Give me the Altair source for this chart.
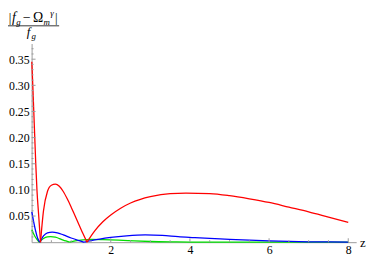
import altair as alt
import pandas as pd

# ---- data ----
red_segs = [
    ([0.005, 0.03, 0.055, 0.08, 0.105, 0.135, 0.18, 0.225],
     [0.345, 0.30, 0.25, 0.20, 0.15, 0.10, 0.05, 0.0]),
    ([0.225, 0.3, 0.4, 0.5, 0.6, 0.7, 0.8, 0.9, 1.0, 1.1, 1.2, 1.3, 1.4],
     [0.0, 0.06, 0.097, 0.109, 0.111, 0.107, 0.097, 0.083, 0.067, 0.050, 0.033, 0.016, 0.0]),
    ([1.4, 1.6, 1.8, 2.0, 2.25, 2.5, 2.75, 3.0, 3.5, 3.9, 4.5, 5.0, 5.5, 6.0, 6.5, 7.0, 7.5, 8.0],
     [0.0, 0.022, 0.039, 0.052, 0.065, 0.075, 0.082, 0.087, 0.093, 0.094, 0.093, 0.089,
      0.083, 0.076, 0.067, 0.058, 0.048, 0.038]),
]
blue_segs = [
    ([0.005, 0.05, 0.1, 0.15, 0.21],
     [0.058, 0.040, 0.022, 0.008, 0.0]),
    ([0.21, 0.3, 0.4, 0.52, 0.65, 0.8, 1.0, 1.2, 1.33],
     [0.0, 0.012, 0.018, 0.0192, 0.018, 0.014, 0.008, 0.003, 0.0]),
    ([1.33, 1.5, 1.72, 2.0, 2.4, 2.87, 3.3, 3.7, 4.1, 4.5, 5.0, 5.5, 6.0, 6.5, 7.0, 7.5, 8.0],
     [0.0, 0.003, 0.006, 0.009, 0.012, 0.0138, 0.013, 0.0105, 0.0088, 0.0072, 0.0055,
      0.0038, 0.0025, 0.0015, 0.0008, 0.0004, 0.0002]),
]
green_segs = [
    ([0.005, 0.05, 0.1, 0.15, 0.19],
     [0.024, 0.016, 0.009, 0.004, 0.0]),
    ([0.19, 0.3, 0.4, 0.48, 0.6, 0.7, 0.8, 0.9, 0.96],
     [0.0, 0.007, 0.010, 0.0105, 0.0095, 0.007, 0.004, 0.0015, 0.0]),
    ([0.96, 1.1, 1.3, 1.5, 1.8, 2.2, 2.6, 3.0, 3.5, 4.0, 5.0, 6.0, 8.0],
     [0.0, 0.0025, 0.0045, 0.0052, 0.0048, 0.0038, 0.0024, 0.0013, 0.0006, 0.0003,
      0.0001, 0.0, 0.0]),
]

x_tick_labels = [2, 4, 6, 8]
y_tick_labels = [0.05, 0.10, 0.15, 0.20, 0.25, 0.30, 0.35]
x_minor = [0.5, 1.0, 1.5, 2.5, 3.0, 3.5, 4.5, 5.0, 5.5, 6.5, 7.0, 7.5]
y_minor = [0.01, 0.02, 0.03, 0.04, 0.06, 0.07, 0.08, 0.09, 0.11, 0.12, 0.13, 0.14,
           0.16, 0.17, 0.18, 0.19, 0.21, 0.22, 0.23, 0.24, 0.26, 0.27, 0.28, 0.29,
           0.31, 0.32, 0.33, 0.34, 0.36, 0.37]

rows = []
for name, segs in [("green", green_segs), ("blue", blue_segs), ("red", red_segs)]:
    for i, (zs, vs) in enumerate(segs):
        for z, v in zip(zs, vs):
            rows.append({"series": name, "seg": f"{name}{i}", "z": z, "v": v})
df = pd.DataFrame(rows)

W, H = 330, 202
SERIF = "Liberation Serif"
AX = "#9a9a9a"

xscale = alt.Scale(domain=[0, 8.2], nice=False, zero=False)
yscale = alt.Scale(domain=[0, 0.38], nice=False, zero=False)

xaxis = alt.Axis(values=x_tick_labels, format="d", ticks=False, tickSize=0, grid=False,
                 domainColor=AX, domainWidth=1, labelFont=SERIF, labelFontSize=12,
                 labelColor="#000000", labelPadding=3, title=None)
yaxis = alt.Axis(values=y_tick_labels, format=".2f", ticks=False, tickSize=0, grid=False,
                 domainColor=AX, domainWidth=1, labelFont=SERIF, labelFontSize=12,
                 labelColor="#000000", labelPadding=2.5, title=None)

colors = {"red": "#ff0000", "blue": "#0000ff", "green": "#00dd00"}

layers = []
for name in ["green", "blue", "red"]:
    layers.append(
        alt.Chart(df).transform_filter(alt.datum.series == name)
        .mark_line(interpolate="monotone", strokeWidth=1.3, color=colors[name])
        .encode(
            x=alt.X("z:Q", scale=xscale, axis=xaxis),
            y=alt.Y("v:Q", scale=yscale, axis=yaxis),
            detail="seg:N",
        )
    )

# inward ticks, Mathematica style
def yticks(vals, length):
    return alt.Chart(pd.DataFrame({"v": vals})).mark_rule(color=AX, strokeWidth=1).encode(
        y=alt.Y("v:Q", scale=yscale, axis=yaxis), x=alt.value(0), x2=alt.value(length))

def xticks(vals, length):
    return alt.Chart(pd.DataFrame({"z": vals})).mark_rule(color=AX, strokeWidth=1).encode(
        x=alt.X("z:Q", scale=xscale, axis=xaxis), y=alt.value(H), y2=alt.value(H - length))

layers += [yticks(y_tick_labels, 4), yticks(y_minor, 2),
           xticks(x_tick_labels, 4), xticks(x_minor, 2)]

one = pd.DataFrame({"t": [0]})

def txt(s, x, y, size, italic=False, align="left"):
    return alt.Chart(one).mark_text(
        text=s, font=SERIF, fontSize=size, fontStyle="italic" if italic else "normal",
        align=align, baseline="alphabetic", color="#000000"
    ).encode(x=alt.value(x), y=alt.value(y))

label = [
    txt("|", -22, -22, 13, align="center"),
    txt("f", -20, -22, 14, italic=True),
    txt("g", -15.5, -19, 9, italic=True),
    txt("\u2212", -5, -22, 14, align="center"),
    txt("\u03a9", 6.5, -22, 14, align="center"),
    txt("m", 12, -19, 9, italic=True),
    txt("\u03b3", 19, -28, 9, italic=True),
    txt("|", 25, -22, 13, align="center"),
    txt("f", -5, -8, 13, italic=True),
    txt("g", 0, -5, 9, italic=True),
    txt("z", 334, 207, 13),
    alt.Chart(one).mark_rule(color="#000000", strokeWidth=0.8).encode(
        x=alt.value(-24), x2=alt.value(28), y=alt.value(-18)),
]

chart = alt.layer(*layers, *label).properties(
    width=W, height=H,
    autosize=alt.AutoSizeParams(type="none"),
    padding={"left": 24, "top": 34, "right": 10, "bottom": 16},
).configure_view(stroke=None)

chart.save("out.html", embed_options={"renderer": "svg", "actions": False})
